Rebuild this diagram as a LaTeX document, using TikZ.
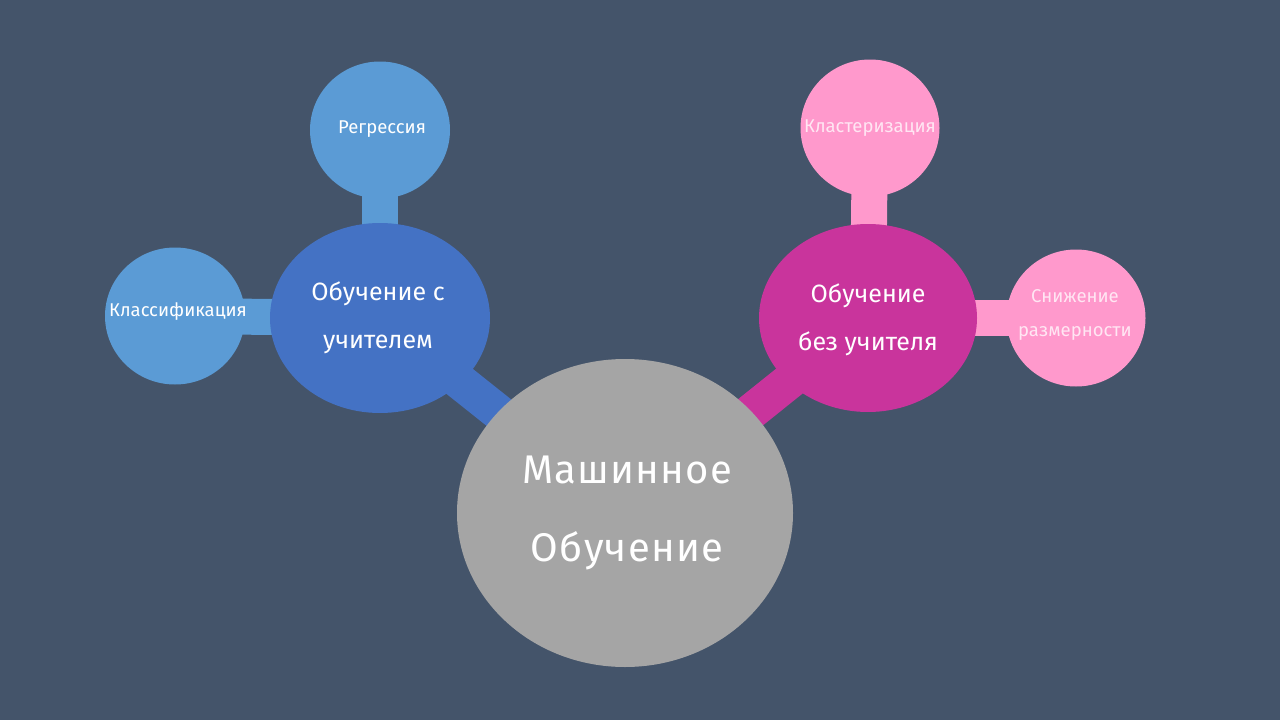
\documentclass[tikz,border=0pt]{standalone}
\usepackage{fontspec}
\usetikzlibrary{shapes.geometric}
\setmainfont{Fira Sans}
\definecolor{bg}{HTML}{44546A}
\definecolor{gr}{HTML}{A5A5A5}
\definecolor{bl}{HTML}{4472C4}
\definecolor{lbl}{HTML}{5B9BD5}
\definecolor{mg}{HTML}{C9349C}
\definecolor{pk}{HTML}{FF99CC}
\definecolor{pktext}{HTML}{FFE6F3}
\begin{document}
\begin{tikzpicture}[x=1pt,y=-1pt,
  blob/.style={ellipse,inner sep=0pt,align=center,text=white},
  bar/.style={line width=36pt},
  smalltext/.style={font=\fontsize{18.5}{22}\selectfont},
  midtext/.style={text=white,align=center,font=\fontsize{25}{48}\selectfont}]
\fill[bg] (0,0) rectangle (1280,720);
\useasboundingbox (0,0) rectangle (1280,720);
% nodes (positions)
\coordinate (cML) at (625,513);
\coordinate (cSL) at (380,318);
\coordinate (cUL) at (868,318);
\coordinate (cRg) at (380,130);
\coordinate (cCl) at (175,316);
\coordinate (cKl) at (870,128);
\coordinate (cDr) at (1076,318);
% connectors
\draw[bar,bl] (cSL) -- (cML);
\draw[bar,mg] (cUL) -- (cML);
\draw[bar,lbl] (cRg) -- (cSL);
\draw[bar,lbl] (cCl) -- (cSL);
\draw[bar,pk] (cKl) -- (cUL);
\draw[bar,pk] (cDr) -- (cUL);
% circles
\node[blob,fill=gr,minimum width=336pt,minimum height=308pt] (ml) at (cML) {};
\node[blob,fill=bl,minimum width=220pt,minimum height=190pt] (sl) at (cSL) {};
\node[blob,fill=mg,minimum width=218pt,minimum height=188pt] (ul) at (cUL) {};
\node[blob,fill=lbl,minimum width=140pt,minimum height=137pt] (rg) at (cRg) {};
\node[blob,fill=lbl,minimum width=140pt,minimum height=137pt] (cl) at (cCl) {};
\node[blob,fill=pk,minimum width=139pt,minimum height=137pt] (kl) at (cKl) {};
\node[blob,fill=pk,minimum width=139pt,minimum height=137pt] (dr) at (cDr) {};
% texts
\node[text=white,font=\fontsize{40}{78}\selectfont\addfontfeature{LetterSpace=3},align=center] (tml) at (627,513) {Машинное\\Обучение};
\node[midtext] (tsl) at (378,318) {Обучение с\\учителем};
\node[midtext] (tul) at (868,320) {Обучение\\без учителя};
\node[smalltext,text=white] (trg) at (382,129) {Регрессия};
\node[smalltext,text=white] (tcl) at (178,312) {Классификация};
\node[smalltext,text=pktext] (tkl) at (870,128) {Кластеризация};
\node[smalltext,text=pktext,font=\fontsize{18.5}{34}\selectfont,align=center] (tdr) at (1075,315) {Снижение\\размерности};
\end{tikzpicture}
\end{document}
